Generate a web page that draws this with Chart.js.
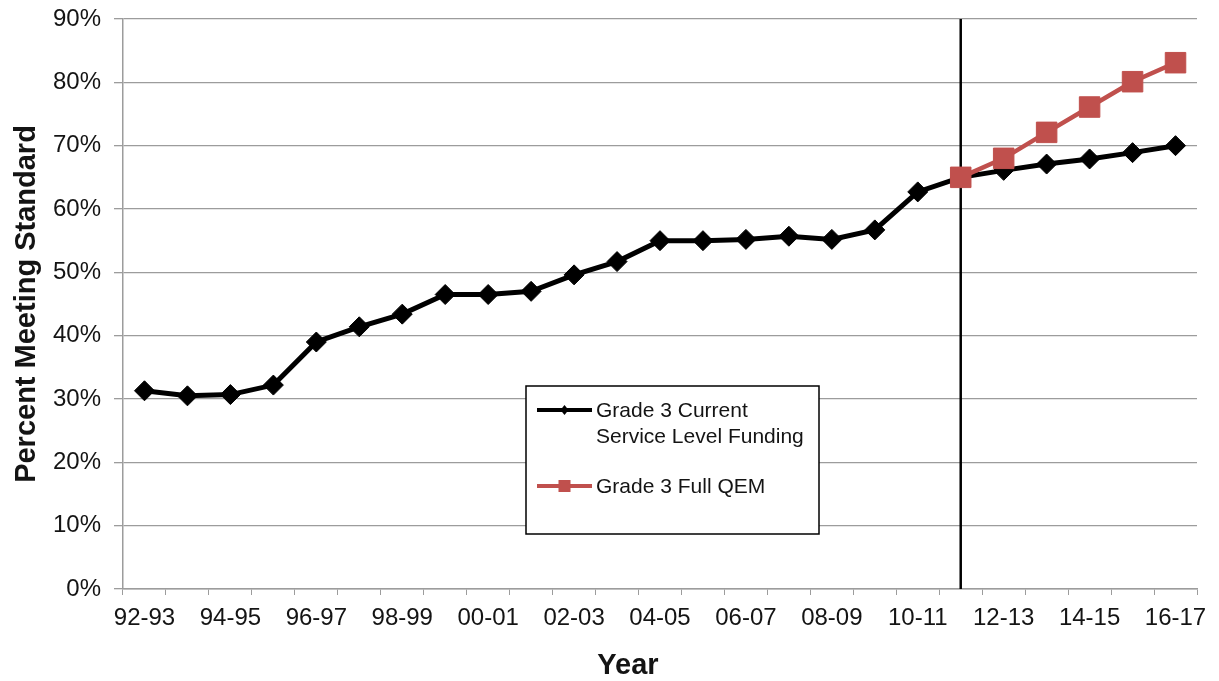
<!DOCTYPE html>
<html>
<head>
<meta charset="utf-8">
<script src="https://cdn.jsdelivr.net/npm/chart.js@4/dist/chart.umd.min.js"></script>
<style>
  html, body { margin: 0; padding: 0; background: #ffffff; }
  #wrap { width: 1219px; height: 681px; position: relative; }
</style>
</head>
<body>
<div id="wrap"><canvas id="c"></canvas></div>
<script>
const categories = ['92-93','93-94','94-95','95-96','96-97','97-98','98-99','99-00','00-01','01-02',
  '02-03','03-04','04-05','05-06','06-07','07-08','08-09','09-10','10-11','11-12',
  '12-13','13-14','14-15','15-16','16-17'];
const currentServiceValues = [31.3,30.5,30.7,32.2,39.0,41.4,43.4,46.5,46.5,47.0,
  49.6,51.7,55.0,55.0,55.2,55.7,55.2,56.7,62.7,65.0,
  66.1,67.1,67.9,68.9,70.0];
const fullQemValues = [null,null,null,null,null,null,null,null,null,null,
  null,null,null,null,null,null,null,null,null,65.0,
  68.0,72.1,76.1,80.1,83.1];
const yTicks = [0,10,20,30,40,50,60,70,80,90];
const seriesNames = ['Grade 3 Current', 'Service Level Funding'];
const qemName = 'Grade 3 Full QEM';
const dividerCategory = '11-12';
const xTitle = 'Year';
const yTitle = 'Percent Meeting Standard';

const BLACK = '#000000';
const RED = '#C0504D';
const GRID = '#9c9c9c';
const TEXT = '#141414';
const FONT = '"Liberation Sans", Arial, sans-serif';

const overlay = {
  id: 'overlay',
  beforeDatasetsDraw(chart) {
    const ctx = chart.ctx;
    const a = chart.chartArea;
    const xs = chart.scales.x;
    const idx = categories.indexOf(dividerCategory);
    const px = xs.getPixelForValue(idx);
    ctx.save();
    ctx.strokeStyle = BLACK;
    ctx.lineWidth = 2.5;
    ctx.beginPath();
    ctx.moveTo(px, a.top);
    ctx.lineTo(px, a.bottom);
    ctx.stroke();

    // legend box
    const bx = a.left + 403, by = a.top + 367, bw = 293, bh = 148;
    ctx.fillStyle = '#ffffff';
    ctx.fillRect(bx, by, bw, bh);
    ctx.strokeStyle = '#000000';
    ctx.lineWidth = 1.5;
    ctx.strokeRect(bx, by, bw, bh);

    const sx0 = bx + 11, sx1 = bx + 66, sxm = (sx0 + sx1) / 2;
    let y1 = by + 24;
    ctx.strokeStyle = BLACK; ctx.lineWidth = 4;
    ctx.beginPath(); ctx.moveTo(sx0, y1); ctx.lineTo(sx1, y1); ctx.stroke();
    ctx.fillStyle = BLACK;
    ctx.beginPath();
    ctx.moveTo(sxm, y1 - 5); ctx.lineTo(sxm + 4, y1); ctx.lineTo(sxm, y1 + 5); ctx.lineTo(sxm - 4, y1);
    ctx.closePath(); ctx.fill();
    let y2 = by + 100;
    ctx.strokeStyle = RED; ctx.lineWidth = 4;
    ctx.beginPath(); ctx.moveTo(sx0, y2); ctx.lineTo(sx1, y2); ctx.stroke();
    ctx.fillStyle = RED;
    ctx.fillRect(sxm - 6, y2 - 6, 12, 12);

    ctx.fillStyle = TEXT;
    ctx.font = '21px ' + FONT;
    ctx.textBaseline = 'middle';
    ctx.textAlign = 'left';
    ctx.fillText(seriesNames[0], sx1 + 4, y1 + 1);
    ctx.fillText(seriesNames[1], sx1 + 4, y1 + 27);
    ctx.fillText(qemName, sx1 + 4, y2 + 1);
    ctx.restore();
  },
  afterDraw(chart) {
    const ctx = chart.ctx;
    ctx.save();
    ctx.fillStyle = TEXT;
    ctx.font = 'bold 29px ' + FONT;
    ctx.textAlign = 'center';
    ctx.textBaseline = 'middle';
    ctx.fillText(xTitle, 628, 666);
    ctx.restore();
  }
};

new Chart(document.getElementById('c'), {
  type: 'line',
  data: {
    labels: categories,
    datasets: [
      {
        label: seriesNames.join(' '),
        data: currentServiceValues,
        borderColor: BLACK,
        backgroundColor: BLACK,
        borderWidth: 5,
        pointStyle: 'rectRot',
        pointRadius: 10,
        pointBorderWidth: 1,
        pointBackgroundColor: BLACK,
        pointBorderColor: BLACK,
        tension: 0,
        order: 2
      },
      {
        label: qemName,
        data: fullQemValues,
        borderColor: RED,
        backgroundColor: RED,
        borderWidth: 4.5,
        pointStyle: 'rect',
        pointRadius: 14.5,
        pointBorderWidth: 1,
        pointBackgroundColor: RED,
        pointBorderColor: RED,
        tension: 0,
        order: 1
      }
    ]
  },
  options: {
    responsive: true,
    maintainAspectRatio: false,
    animation: false,
    events: [],
    layout: { padding: { top: 19, right: 22, left: 0, bottom: 0 } },
    plugins: {
      legend: { display: false },
      tooltip: { enabled: false }
    },
    scales: {
      x: {
        type: 'category',
        offset: true,
        afterFit(scale) { scale.height = 92; scale.paddingLeft = 0; scale.paddingRight = 0; },
        grid: {
          display: true,
          offset: true,
          drawOnChartArea: false,
          drawTicks: true,
          tickLength: 6,
          color: GRID,
          lineWidth: 1
        },
        border: { display: true, color: GRID, width: 1.5 },
        ticks: {
          autoSkip: false,
          maxRotation: 0,
          minRotation: 0,
          padding: 9,
          color: TEXT,
          font: { family: FONT, size: 24 },
          callback(value, index) { return index % 2 === 0 ? categories[index] : ''; }
        }
      },
      y: {
        min: 0,
        max: 90,
        afterFit(scale) { scale.width = 123; scale.paddingTop = 0; scale.paddingBottom = 0; },
        afterBuildTicks(scale) { scale.ticks = yTicks.map(v => ({ value: v })); },
        grid: {
          color: GRID,
          lineWidth: 1.3,
          drawTicks: true,
          tickLength: 9
        },
        border: { display: true, color: GRID, width: 1.5 },
        ticks: {
          padding: 13,
          color: TEXT,
          font: { family: FONT, size: 24 },
          callback(value) { return value + '%'; }
        },
        title: {
          display: true,
          text: yTitle,
          color: TEXT,
          font: { family: FONT, size: 29, weight: 'bold', lineHeight: 1.2 },
          padding: { top: 10, bottom: 0 }
        }
      }
    }
  },
  plugins: [overlay]
});
</script>
</body>
</html>
